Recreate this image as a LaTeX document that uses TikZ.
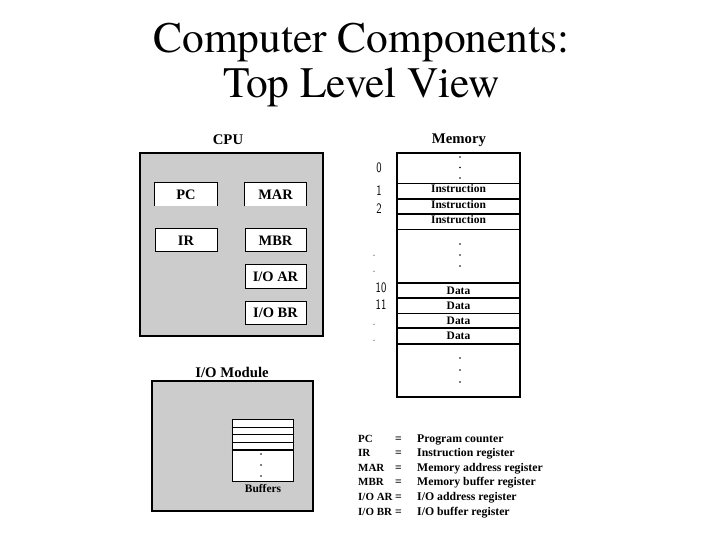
\documentclass[tikz,border=0pt]{standalone}
\usepackage{fontspec}
\usepackage{graphicx}
\setmainfont{Liberation Serif}
\IfFontExistsTF{TeX Gyre Termes}
    {\newfontfamily\titlefont{TeX Gyre Termes}}
    {\newfontfamily\titlefont{Liberation Serif}}
\newcommand{\narrowdigits}[1]{\scalebox{0.75}[1]{#1}}
\usetikzlibrary{positioning}
\definecolor{boxgray}{gray}{0.8}

\begin{document}
\begin{tikzpicture}[x=1bp, y=-1bp,
    title/.style={font=\titlefont\fontsize{43.6}{48}\selectfont, inner sep=0pt},
    reg/.style={fill=white, draw, line width=1bp, minimum width=61bp, minimum height=23bp, inner sep=0pt, font=\fontsize{14.5}{16}\selectfont\bfseries},
    openreg/.style={reg, draw=none},
    heading/.style={font=\fontsize{14.8}{17}\selectfont\bfseries, inner sep=0pt},
    cell/.style={font=\fontsize{11.5}{13}\selectfont\bfseries, inner sep=0pt},
    addr/.style={font=\sffamily\fontsize{14.5}{17}\selectfont, inner sep=0pt},
    faint/.style={addr, text=black!55},
    legend/.style={font=\fontsize{11.8}{13}\selectfont\bfseries, inner sep=0pt}]
    \useasboundingbox (0,0) rectangle (720,540);

    % Title
    \node[title, anchor=base] (title1) at (361.5,53) {Computer Components:};
    \node[title, anchor=base] (title2) at (361.5,98) {Top Level View};

    % CPU
    \node[heading] (cpulbl) at (228,140) {CPU};
    \node[draw, fill=boxgray, line width=2bp, minimum width=183bp, minimum height=183bp, inner sep=0pt] (cpu) at (231.5,244.5) {};
    \node[openreg, minimum width=62bp] (pc) at (186,194.5) {PC};
    \draw[line width=1bp] (pc.south west) -- (pc.north west) -- (pc.north east) -- (pc.south east);
    \node[openreg] (mar) at (275.5,194.5) {MAR};
    \draw[line width=1bp] (mar.south west) -- (mar.north west) -- (mar.north east) -- (mar.south east);
    \node[reg, minimum width=62bp] (ir) at (186,240.5) {IR};
    \node[reg] (mbr) at (275.5,240.5) {MBR};
    \node[reg] (ioar) at (275.5,276.5) {I/O AR};
    \node[reg] (iobr) at (275.5,312.5) {I/O BR};

    % Memory
    \node[heading] (memlbl) at (459,140) {Memory};
    \node[draw, fill=white, line width=2bp, minimum width=123bp, minimum height=244bp, inner sep=0pt] (mem) at (458.5,275) {};
    \foreach \y in {183,229,313}
        \draw[line width=0.9bp] (mem.west |- 0,\y) -- (mem.east |- 0,\y);
    \foreach \y in {199,214,283,298,328,344}
        \draw[line width=1.8bp] (mem.west |- 0,\y) -- (mem.east |- 0,\y);
    \foreach \y in {157,167.5,178,244,255,266,358,370,382}
        \fill (460,\y) circle (0.9bp);
    \node[cell] (ins0) at (458.5,189) {Instruction};
    \node[cell] (ins1) at (458.5,204.5) {Instruction};
    \node[cell] (ins2) at (458.5,220) {Instruction};
    \node[cell] (dat0) at (458.5,290.5) {Data};
    \node[cell] (dat1) at (458.5,305.5) {Data};
    \node[cell] (dat2) at (458.5,320.5) {Data};
    \node[cell] (dat3) at (458.5,336) {Data};

    % Addresses
    \node[addr] (a0) at (379,168) {\narrowdigits{0}};
    \node[addr] (a1) at (379,191) {\narrowdigits{1}};
    \node[addr] (a2) at (379,209) {\narrowdigits{2}};
    \node[faint] (d1) at (374,256) {.};
    \node[faint] (d2) at (374,272) {.};
    \node[addr] (a10) at (381,288) {\narrowdigits{10}};
    \node[addr] (a11) at (381,305) {\narrowdigits{11}};
    \node[faint] (d3) at (374,325) {.};
    \node[faint] (d4) at (374,341) {.};

    % I/O Module
    \node[heading] (iolbl) at (232,372) {I/O Module};
    \node[draw, fill=boxgray, line width=2bp, minimum width=161bp, minimum height=130bp, inner sep=0pt] (io) at (232.5,446) {};
    \node[draw, fill=white, line width=1bp, minimum width=61bp, minimum height=62bp, inner sep=0pt] (buf) at (262.5,450) {};
    \foreach \y in {427,434.5,442}
        \draw[line width=1bp] (buf.west |- 0,\y) -- (buf.east |- 0,\y);
    \draw[line width=1.4bp] (buf.west |- 0,450) -- (buf.east |- 0,450);
    \foreach \y in {454,465,476}
        \fill (261,\y) circle (0.9bp);
    \node[cell] (buflbl) at (263,489) {Buffers};

    % Legend
    \foreach \abbr/\desc [count=\i from 0] in {PC/{Program counter}, IR/{Instruction register}, MAR/{Memory address register}, MBR/{Memory buffer register}, {I/O AR}/{I/O address register}, {I/O BR}/{I/O buffer register}} {
        \node[legend, font=\fontsize{11}{13}\selectfont\bfseries, anchor=base west] (key\i) at (358,442+14.6*\i) {\abbr};
        \node[legend, anchor=base] (eq\i) at (398.5,442+14.6*\i) {=};
        \node[legend, anchor=base west] (desc\i) at (417,442+14.6*\i) {\desc};
    }
\end{tikzpicture}
\end{document}
